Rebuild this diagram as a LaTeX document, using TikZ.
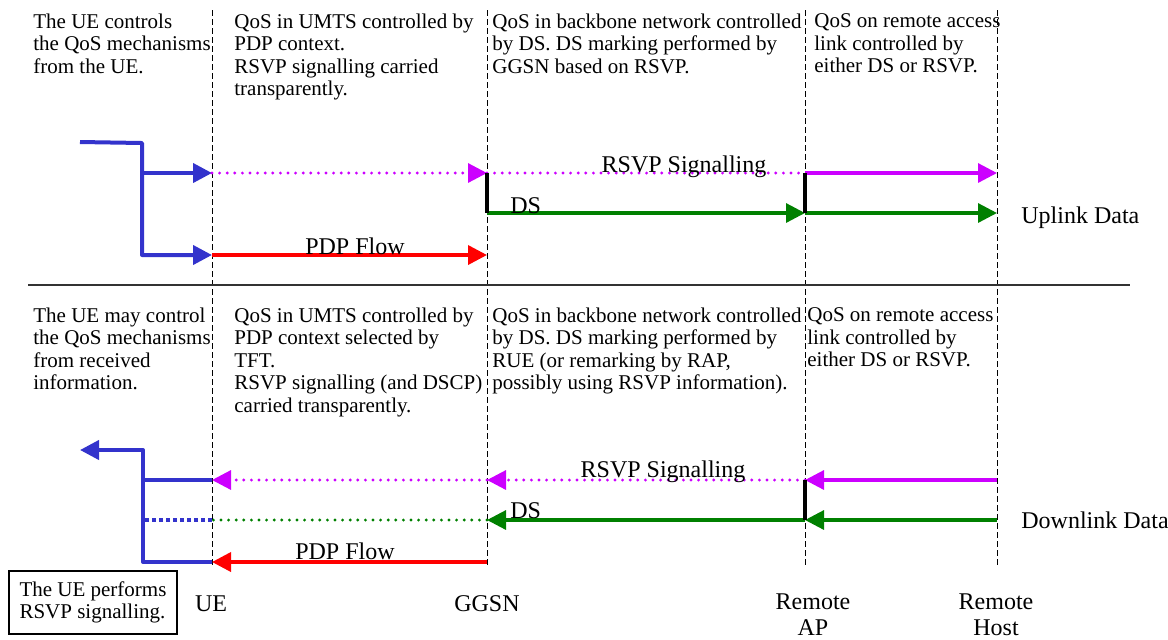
\documentclass[tikz,border=0pt]{standalone}
\usepackage{fontspec}
\setmainfont{Liberation Serif}
\usepackage{tikz}
\usetikzlibrary{arrows.meta}
\usepackage{xcolor}

\definecolor{ueblue}{RGB}{51,51,204}
\definecolor{rsvpmag}{RGB}{204,0,255}
\definecolor{dsgreen}{RGB}{0,128,0}
\definecolor{pdpred}{RGB}{255,0,0}

\tikzset{
  lifeline/.style={black, line width=0.5pt, dash pattern=on 3pt off 1.5pt},
  arr/.style={-{Triangle[length=9.5pt,width=9.5pt]}},
  ueline/.style={ueblue, line width=2pt, line join=round},
  rsvp/.style={rsvpmag, line width=1.6pt},
  dots/.style={line cap=round, dash pattern=on 0pt off 3.8pt},
  ds/.style={dsgreen, line width=1.6pt},
  pdp/.style={pdpred, line width=1.8pt},
  junction/.style={black, line width=2pt},
  desc/.style={anchor=north west, inner sep=0pt, align=left, font=\fontsize{10.5}{11.25}\selectfont},
  lbl/.style={inner sep=0pt, font=\fontsize{12}{13}\selectfont}
}

\begin{document}
\begin{tikzpicture}[x=0.5pt, y=-0.5pt]
    \useasboundingbox (0,0) rectangle (1168,639);

    % Lifelines
    \foreach \n/\x in {ue/212, ggsn/487, rap/805, rh/997} {
        \coordinate (\n) at (\x,10);
        \coordinate (\n-b) at (\x,568);
        \draw[lifeline] (\n) -- (\n-b);
    }

    % Rows
    \coordinate (uR) at (0,173);
    \coordinate (uD) at (0,213);
    \coordinate (uP) at (0,255);
    \coordinate (dR) at (0,480);
    \coordinate (dD) at (0,520);
    \coordinate (dP) at (0,562);

    % Separator
    \coordinate (sep-l) at (28,285);
    \coordinate (sep-r) at (1130,285);
    \draw[line width=0.6pt, black!80] (sep-l) -- (sep-r);

    % Uplink
    \coordinate (ue-in) at (80,142);
    \coordinate (ue-fork) at (142,143);
    \draw[ueline, arr] (ue-in) -- (ue-fork) -- (ue-fork |- uP) -- (ue |- uP);
    \draw[ueline, arr] (ue-fork |- uR) -- (ue |- uR);
    \draw[rsvp, dots, arr] (ue |- uR) -- (ggsn |- uR);
    \draw[rsvp, dots] (ggsn |- uR) -- (rap |- uR);
    \draw[rsvp, arr] (rap |- uR) -- (rh |- uR);
    \draw[ds, arr] (ggsn |- uD) -- (rap |- uD);
    \draw[ds, arr] (rap |- uD) -- (rh |- uD);
    \draw[pdp, arr] (ue |- uP) -- (ggsn |- uP);
    \draw[junction] (ggsn |- uR) -- (ggsn |- uD);
    \draw[junction] (rap |- uR) -- (rap |- uD);

    \node[lbl, anchor=base] (rsvp-up) at (684,172) {RSVP Signalling};
    \node[lbl, anchor=base west] (ds-up) at (510,213) {DS};
    \node[lbl, anchor=base] (pdp-up) at (355,254) {PDP Flow};
    \node[lbl, anchor=base west] (uplink) at (1021,223) {Uplink Data};

    % Downlink
    \coordinate (ue-out) at (80,450);
    \coordinate (ue-join) at (143,450);
    \draw[ueline, arr] (ue |- dP) -- (ue-join |- dP) -- (ue-join) -- (ue-out);
    \draw[ueline] (ue |- dR) -- (ue-join |- dR);
    \draw[ueblue, line width=2pt, dash pattern=on 2pt off 1.5pt] (ue |- dD) -- (ue-join |- dD);
    \draw[rsvp, arr] (rh |- dR) -- (rap |- dR);
    \draw[rsvp, dots, arr] (rap |- dR) -- (ggsn |- dR);
    \draw[rsvp, dots, arr] (ggsn |- dR) -- (ue |- dR);
    \draw[ds, arr] (rh |- dD) -- (rap |- dD);
    \draw[ds, arr] (rap |- dD) -- (ggsn |- dD);
    \draw[ds, dots] (ggsn |- dD) -- (ue |- dD);
    \draw[pdp, arr] (ggsn |- dP) -- (ue |- dP);
    \draw[junction] (rap |- dR) -- (rap |- dD);

    \node[lbl, anchor=base] (rsvp-dn) at (663,477) {RSVP Signalling};
    \node[lbl, anchor=base west] (ds-dn) at (510,518) {DS};
    \node[lbl, anchor=base] (pdp-dn) at (345,559) {PDP Flow};
    \node[lbl, anchor=base west] (downlink) at (1021,528) {Downlink Data};

    % Descriptions
    \node[desc] (ue-up) at (33,13.5) {The UE controls\\the QoS mechanisms\\from the UE.};
    \node[desc] (umts-up) at (234,13.5) {QoS in UMTS controlled by\\PDP context.\\RSVP signalling carried\\transparently.};
    \node[desc] (bb-up) at (492,13.5) {QoS in backbone network controlled\\by DS. DS marking performed by\\GGSN based on RSVP.};
    \node[desc] (acc-up) at (814,13.5) {QoS on remote access\\link controlled by\\either DS or RSVP.};

    \node[desc] (ue-dn) at (33,307.5) {The UE may control\\the QoS mechanisms\\from received\\information.};
    \node[desc] (umts-dn) at (234,307.5) {QoS in UMTS controlled by\\PDP context selected by\\TFT.\\RSVP signalling (and DSCP)\\carried transparently.};
    \node[desc] (bb-dn) at (492,307.5) {QoS in backbone network controlled\\by DS. DS marking performed by\\RUE (or remarking by RAP,\\possibly using RSVP information).};
    \node[desc] (acc-dn) at (807,307.5) {QoS on remote access\\link controlled by\\either DS or RSVP.};

    % Entities
    \node[lbl, anchor=base] (ue-lbl) at (211,611) {UE};
    \node[lbl, anchor=base] (ggsn-lbl) at (487,611) {GGSN};
    \node[lbl, anchor=north, align=center] (rap-lbl) at (813,593) {Remote\\AP};
    \node[lbl, anchor=north, align=center] (rh-lbl) at (996,593) {Remote\\Host};

    \node[draw, line width=0.6pt, align=left, minimum width=84pt, minimum height=31.5pt,
          font=\fontsize{10.5}{11.25}\selectfont] (note) at (93,602.5) {The UE performs\\RSVP signalling.};
\end{tikzpicture}
\end{document}
